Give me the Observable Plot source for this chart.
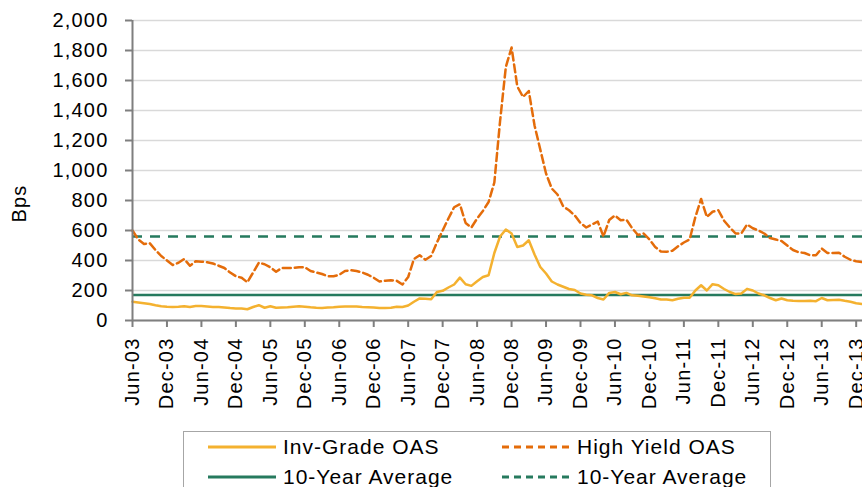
<!DOCTYPE html>
<html>
<head>
<meta charset="utf-8">
<script src="https://cdn.jsdelivr.net/npm/d3@7"></script>
<script src="https://cdn.jsdelivr.net/npm/@observablehq/plot@0.6"></script>
<style>
  html, body { margin: 0; padding: 0; background: #fff; }
  #wrap { position: relative; width: 862px; height: 487px; overflow: hidden; font-family: "Liberation Sans", Arial, sans-serif; }
  #legend { position: absolute; left: 183px; top: 431px; width: 588px; height: 80px; border: 1px solid #a6a6a6; box-sizing: border-box; }
  .item { position: absolute; font-size: 21px; letter-spacing: 1px; color: #000; white-space: nowrap; line-height: 1; }
  .item svg { position: absolute; left: 0; top: 0; }
  .item span { position: absolute; top: 0; }
</style>
</head>
<body>
<div id="wrap"><div id="chart"></div><div id="legend"></div></div>
<script>
// Monthly option-adjusted spreads, Jun-03 .. Jan-14 (month index 0..127)
const igOAS = [125,120,115,110,102,95,92,90,92,95, 90,97,96,93,90,90,87,83,80,80,
  75,90,102,85,95,85,87,88,92,95, 92,88,85,84,86,88,92,93,93,93,
  90,88,86,84,84,85,91,90,100,125, 147,145,142,190,198,220,240,286,242,231,
  262,290,302,450,560,607,580,490,500,535, 440,357,313,260,240,225,210,203,180,172,
  168,150,140,184,190,175,184,168,165,160, 155,148,140,140,135,145,151,151,200,235,
  200,242,235,210,190,176,180,211,200,180, 168,150,135,147,135,132,130,130,131,129,
  150,135,137,138,131,125,115,110];
const hyOAS = [600,540,510,515,470,430,400,370,385,410, 365,395,392,388,380,365,350,320,295,285,
  255,320,385,375,355,325,350,350,350,355, 355,330,320,310,295,295,305,330,335,330,
  320,305,285,260,265,268,265,240,290,410, 435,405,430,520,600,680,755,775,650,620,
  680,730,790,920,1330,1690,1820,1560,1490,1530, 1300,1140,980,880,840,760,735,700,650,620,
  640,660,560,670,700,668,672,615,570,580, 540,490,460,458,465,495,520,540,690,810,
  690,725,735,665,620,580,580,640,615,600, 580,550,540,530,500,470,455,450,435,435,
  480,450,450,452,425,405,395,390];
const igAvg = 170;
const hyAvg = 560;
const xTickLabels = ["Jun-03","Dec-03","Jun-04","Dec-04","Jun-05","Dec-05","Jun-06","Dec-06",
  "Jun-07","Dec-07","Jun-08","Dec-08","Jun-09","Dec-09","Jun-10","Dec-10","Jun-11","Dec-11",
  "Jun-12","Dec-12","Jun-13","Dec-13"];
const yTicks = [0,200,400,600,800,1000,1200,1400,1600,1800,2000];
const seriesNames = ["Inv-Grade OAS","High Yield OAS","10-Year Average","10-Year Average"];
const colors = {ig: "#f4b12f", hy: "#e46c0a", avg: "#267a5e"};

const ig = igOAS.map((v, i) => ({m: i, v}));
const hy = hyOAS.map((v, i) => ({m: i, v}));
const xTicks = xTickLabels.map((_, i) => i * 6);

const chart = Plot.plot({
  width: 862,
  height: 425,
  marginLeft: 132,
  marginRight: 0,
  marginTop: 20,
  marginBottom: 105,
  style: {fontFamily: "Liberation Sans, Arial, sans-serif", fontSize: "20px", letterSpacing: "1.2px", color: "#000", background: "#fff", overflow: "visible"},
  x: {domain: [0, 127.1]},
  y: {domain: [0, 2000]},
  marks: [
    Plot.gridY(yTicks, {stroke: "#d9d9d9", strokeOpacity: 1, strokeWidth: 1.5}),
    Plot.axisY(yTicks, {tickSize: 7, tickPadding: 17, stroke: "#7f7f7f", strokeWidth: 2, fill: "#000", tickFormat: d3.format(","), label: null}),
    Plot.axisX(xTicks, {tickSize: 7, tickPadding: 10, tickRotate: -90, stroke: "#7f7f7f", strokeWidth: 2, fill: "#000", tickFormat: d => xTickLabels[d / 6], label: null}),
    Plot.ruleY([igAvg], {stroke: colors.avg, strokeWidth: 2.5}),
    Plot.ruleY([hyAvg], {stroke: colors.avg, strokeWidth: 2.5, strokeDasharray: "10,8"}),
    Plot.line(ig, {x: "m", y: "v", stroke: colors.ig, strokeWidth: 2.5}),
    Plot.line(hy, {x: "m", y: "v", stroke: colors.hy, strokeWidth: 2.5, strokeDasharray: "8,4"}),
    Plot.ruleY([0], {stroke: "#7f7f7f", strokeWidth: 2}),
    Plot.ruleX([0], {stroke: "#7f7f7f", strokeWidth: 2}),
    Plot.text(["Bps"], {frameAnchor: "left", text: d => d, rotate: -90, dx: -113, dy: 52, fontSize: 20})
  ]
});
document.getElementById("chart").appendChild(chart);

// Legend
const legend = document.getElementById("legend");
const items = [
  {name: seriesNames[0], color: colors.ig, dash: null, x: 23, y: 15},
  {name: seriesNames[1], color: colors.hy, dash: "7,5", x: 317, y: 15},
  {name: seriesNames[2], color: colors.avg, dash: null, x: 23, y: 45},
  {name: seriesNames[3], color: colors.avg, dash: "7,5", x: 317, y: 45}
];
for (const it of items) {
  const div = document.createElement("div");
  div.className = "item";
  div.style.left = it.x + "px";
  div.style.top = (it.y - 11) + "px";
  div.innerHTML = `<svg width="72" height="22"><line x1="1" x2="69" y1="11" y2="11" stroke="${it.color}" stroke-width="3" ${it.dash ? `stroke-dasharray="${it.dash}"` : ""}/></svg><span style="left:76px">${it.name}</span>`;
  legend.appendChild(div);
}
</script>
</body>
</html>
